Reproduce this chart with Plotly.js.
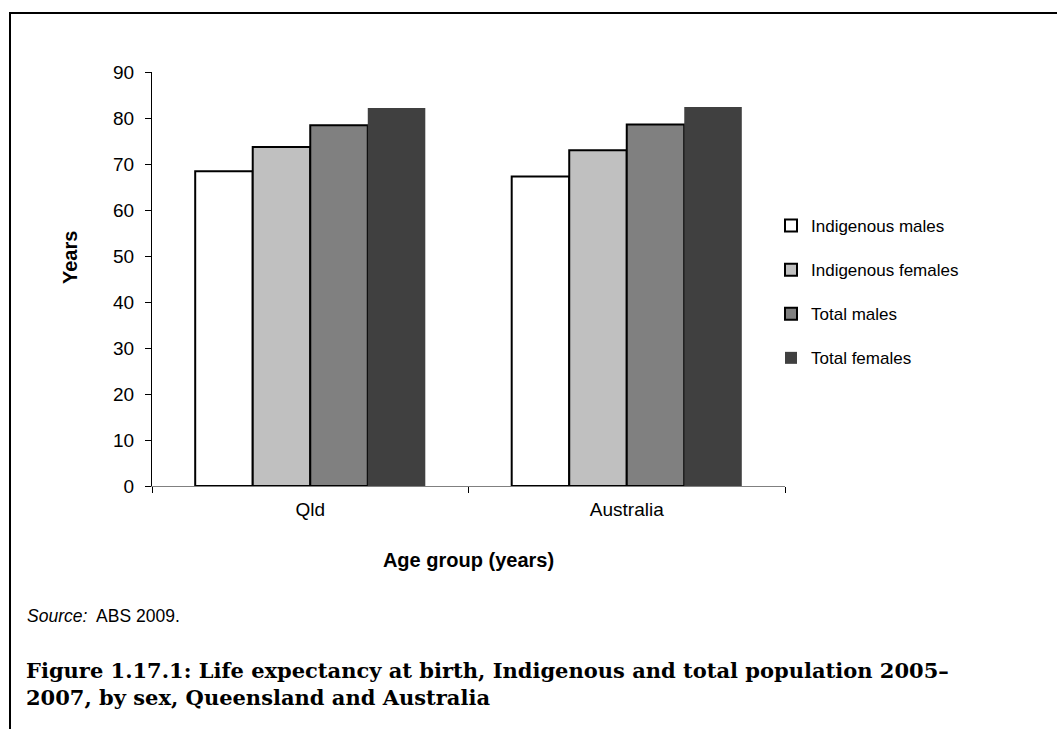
<!DOCTYPE html>
<html>
<head>
<meta charset="utf-8">
<script src="https://cdn.plot.ly/plotly-3.0.1.min.js"></script>
<style>
html,body{margin:0;padding:0;background:#fff;}
#wrap{position:relative;width:1057px;height:729px;overflow:hidden;}
#chart{position:absolute;left:0;top:0;width:1057px;height:729px;}
#frame{position:absolute;left:9px;top:12px;width:1100px;height:800px;border-left:2px solid #000;border-top:2px solid #000;pointer-events:none;}
</style>
</head>
<body>
<div id="wrap"><div id="chart"></div><div id="frame"></div></div>
<script>
const categories = ["Qld", "Australia"];
const seriesNames = ["Indigenous males", "Indigenous females", "Total males", "Total females"];
const indigenousMales = [68.4, 67.3];
const indigenousFemales = [73.7, 73.0];
const totalMales = [78.4, 78.6];
const totalFemales = [82.2, 82.4];
const yTicks = [0, 10, 20, 30, 40, 50, 60, 70, 80, 90];

const seriesValues = [indigenousMales, indigenousFemales, totalMales, totalFemales];
const fills = ["#FFFFFF", "#C0C0C0", "#808080", "#404040"];
const lineW = [2, 2, 2, 0];

const traces = seriesValues.map((v, i) => ({
  type: "bar",
  name: seriesNames[i],
  x: categories,
  y: v,
  legendgroup: "g" + i,
  marker: {color: fills[i], line: {color: "#000000", width: lineW[i]}},
  hoverinfo: "name+y"
}));

const F = "Liberation Sans, Arial, sans-serif";
const W = 633, H = 414, L = 152, T = 72;
const px = x => (x - L) / W;
const py = y => (T + H - y) / H;

const layout = {
  width: 1057, height: 729,
  margin: {l: L, r: 1057 - L - W, t: T, b: 729 - T - H},
  paper_bgcolor: "rgba(0,0,0,0)",
  plot_bgcolor: "rgba(0,0,0,0)",
  barmode: "group",
  bargap: 0.273,
  bargroupgap: 0,
  showlegend: true,
  legend: {
    x: px(771), y: py(208), xanchor: "left", yanchor: "top",
    font: {family: F, size: 17, color: "#000"},
    traceorder: "grouped", tracegroupgap: 19,
    itemwidth: 30, bgcolor: "rgba(0,0,0,0)"
  },
  xaxis: {
    type: "category",
    showline: true, linecolor: "#808080", linewidth: 1,
    ticks: "outside", ticklen: 6, tickcolor: "#000", tickson: "boundaries",
    ticklabelstandoff: 6,
    tickfont: {family: F, size: 19, color: "#000"},
    showgrid: false, zeroline: false,
    title: {text: "<b>Age group (years)</b>", font: {family: F, size: 20, color: "#000"}, standoff: 34}
  },
  yaxis: {
    range: [0, 90],
    tickvals: yTicks,
    ticktext: yTicks.map(String),
    showline: true, linecolor: "#000", linewidth: 1,
    ticks: "outside", ticklen: 6, tickcolor: "#000",
    ticklabelstandoff: 7,
    tickfont: {family: F, size: 19, color: "#000"},
    showgrid: false, zeroline: false
  },
  annotations: [
    {xref: "paper", yref: "paper", x: px(70), y: py(258), xanchor: "center", yanchor: "middle",
     showarrow: false, textangle: -90,
     text: "<b>Years</b>", font: {family: F, size: 20, color: "#000"}},
    {xref: "paper", yref: "paper", x: px(25), y: py(616), xanchor: "left", yanchor: "middle",
     showarrow: false, align: "left",
     text: "<i>Source:</i>  ABS 2009.", font: {family: F, size: 17.5, color: "#000"}},
    {xref: "paper", yref: "paper", x: px(24), y: py(656), xanchor: "left", yanchor: "top",
     showarrow: false, align: "left",
     text: "<b>Figure 1.17.1: Life expectancy at birth, Indigenous and total population 2005–<br>2007, by sex, Queensland and Australia</b>",
     font: {family: "DejaVu Serif, Liberation Serif, serif", size: 21, color: "#000"}}
  ]
};

Plotly.newPlot("chart", traces, layout, {displayModeBar: false, staticPlot: true});
</script>
</body>
</html>
